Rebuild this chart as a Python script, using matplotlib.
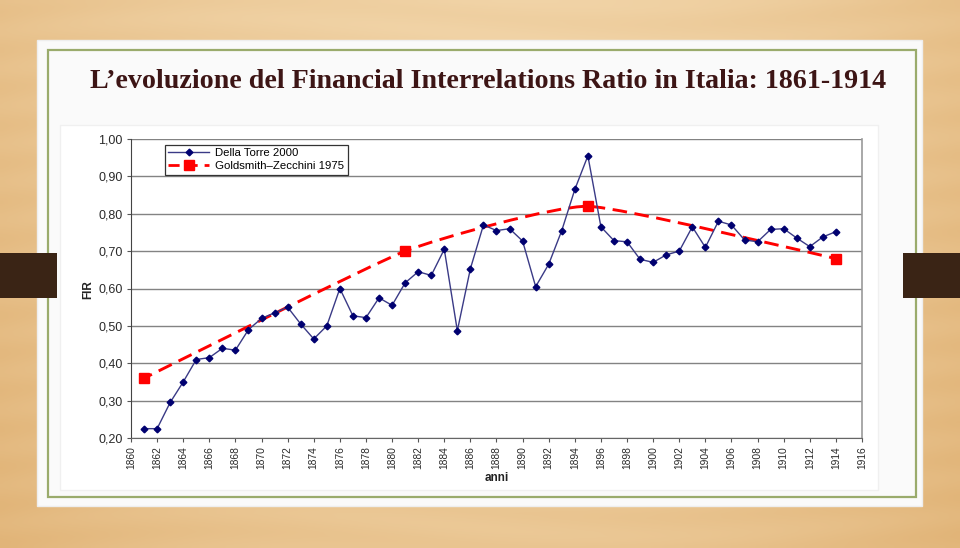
import numpy as np
import matplotlib
matplotlib.use("Agg")
import matplotlib.pyplot as plt
from matplotlib.path import Path
from matplotlib.patches import PathPatch, Rectangle
from matplotlib.lines import Line2D

# ---------------- data ----------------
years_dt = list(range(1861, 1915))
della_torre = [0.225, 0.225, 0.295, 0.350, 0.410, 0.415, 0.440, 0.435, 0.490, 0.520,
               0.535, 0.550, 0.505, 0.465, 0.500, 0.600, 0.527, 0.522, 0.575, 0.555,
               0.615, 0.645, 0.635, 0.705, 0.487, 0.653, 0.770, 0.755, 0.760, 0.727,
               0.605, 0.665, 0.755, 0.865, 0.955, 0.765, 0.728, 0.725, 0.678, 0.670,
               0.690, 0.700, 0.765, 0.710, 0.780, 0.770, 0.730, 0.725, 0.758, 0.760,
               0.735, 0.712, 0.738, 0.752]
years_gz = [1861, 1881, 1895, 1914]
goldsmith = [0.36, 0.70, 0.82, 0.68]
x_ticks = list(range(1860, 1917, 2))
y_ticks = [0.20, 0.30, 0.40, 0.50, 0.60, 0.70, 0.80, 0.90, 1.00]
title = "L\u2019evoluzione del Financial Interrelations Ratio in Italia: 1861-1914"
label_dt = "Della Torre 2000"
label_gz = "Goldsmith\u2013Zecchini 1975"

W, H = 960, 548
fig = plt.figure(figsize=(W / 100, H / 100), dpi=100)

def fr(x0, y0, x1, y1):
    """pixel box (top-left origin) -> figure fraction rect"""
    return [x0 / W, 1 - y1 / H, (x1 - x0) / W, (y1 - y0) / H]

# ---------------- wood background ----------------
bg = fig.add_axes([0, 0, 1, 1])
bg.set_axis_off()
yy, xx = np.mgrid[0:1:120j, 0:1:200j]
c_light = np.array([0.95, 0.84, 0.67])
c_dark = np.array([0.86, 0.66, 0.40])
edge = np.clip(np.abs(xx - 0.5) * 2, 0, 1) ** 2
stripes = 0.04 * np.sin(yy * 90 + np.sin(xx * 7) * 2)
t = np.clip(0.35 * edge + 0.25 * yy + stripes + 0.1, 0, 1)[..., None]
img = c_light * (1 - t) + c_dark * t
bg.imshow(img, extent=[0, W, H, 0], aspect="auto", interpolation="bilinear")
bg.set_xlim(0, W)
bg.set_ylim(H, 0)
# slide
bg.add_patch(Rectangle((37, 40), 885, 466, facecolor="#fafafa", edgecolor="#eeeeee", lw=1))
bg.add_patch(Rectangle((48, 50), 868, 447, facecolor="none", edgecolor="#9aab6c", lw=1.6))
# dark side tabs (on top of the slide edge)
bg.add_patch(Rectangle((0, 253), 57, 45, facecolor="#3a2415", edgecolor="none"))
bg.add_patch(Rectangle((903, 253), 57, 45, facecolor="#3a2415", edgecolor="none"))
# chart picture background
bg.add_patch(Rectangle((60, 125), 818, 365, facecolor="#ffffff", edgecolor="#f0f0f0", lw=1))

fig.text(488 / W, 1 - 81 / H, title, ha="center", va="center",
         family="Liberation Serif", weight="bold", fontsize=20.2, color="#3d1515")

# ---------------- chart ----------------
ax = fig.add_axes(fr(131, 139, 862, 438))
ax.set_xlim(1860, 1916)
ax.set_ylim(0.2, 1.0)
ax.set_facecolor("white")
for yv in y_ticks:
    ax.axhline(yv, color="#838383", lw=1.0, zorder=0)

# Goldsmith-Zecchini smoothed line (cardinal spline -> cubic Bezier)
P = np.column_stack([years_gz, goldsmith]).astype(float)
n = len(P)
k_in, k_end = 0.075, 0.06
verts = [tuple(P[0])]
codes = [Path.MOVETO]
for i in range(n - 1):
    if i > 0:
        c1 = P[i] + (P[i + 1] - P[i - 1]) * k_in
    else:
        c1 = P[i] + (P[i + 1] - P[i]) * k_end
    if i + 2 < n:
        c2 = P[i + 1] - (P[i + 2] - P[i]) * k_in
    else:
        c2 = P[i + 1] - (P[i + 1] - P[i]) * k_end
    verts += [tuple(c1), tuple(c2), tuple(P[i + 1])]
    codes += [Path.CURVE4] * 3
ax.add_patch(PathPatch(Path(verts, codes), fill=False, edgecolor="#ff0000",
                       lw=2.1, linestyle=(2, (5, 2.6)), zorder=2))
ax.plot(years_gz, goldsmith, linestyle="none", marker="s", markersize=6.5,
        color="#ff0000", zorder=3)

ax.plot(years_dt, della_torre, color="#3a3a86", lw=1.0, marker="D",
        markersize=3.4, markerfacecolor="#000070", markeredgecolor="#000070", zorder=4)

ax.set_xticks(x_ticks)
ax.set_xticklabels([str(v) for v in x_ticks], rotation=90, fontsize=7.4,
                   family="Liberation Sans", color="#2a2a2a")
ax.set_yticks(y_ticks)
ax.set_yticklabels([f"{v:.2f}".replace(".", ",") for v in y_ticks], fontsize=9,
                   family="Liberation Sans", color="#2a2a2a")
ax.tick_params(axis="both", direction="out", length=3, width=0.8, color="#555555", pad=3)
ax.spines["top"].set_visible(False)
ax.spines["left"].set_color("#444444")
ax.spines["bottom"].set_color("#666666")
ax.spines["right"].set_color("#999999")
ax.spines["right"].set_linewidth(1.2)

fig.text(88 / W, 1 - 290 / H, "FIR", rotation=90, ha="center", va="center",
         family="Liberation Sans", weight="bold", fontsize=8.5, color="#222222")
fig.text(497 / W, 1 - 478 / H, "anni", ha="center", va="center",
         family="Liberation Sans", weight="bold", fontsize=8.5, color="#222222")

h1 = Line2D([], [], color="#3a3a86", lw=1.0, marker="D", markersize=3.4,
            markerfacecolor="#000070", markeredgecolor="#000070")
h2 = Line2D([], [], color="#ff0000", lw=2.0, linestyle=(0, (4, 2.5)), marker="s",
            markersize=6.5)
leg = fig.legend([h1, h2], [label_dt, label_gz], loc="upper left",
                 bbox_to_anchor=(165 / W, 1 - 145 / H), fancybox=False, framealpha=1,
                 edgecolor="#333333", prop={"family": "Liberation Sans", "size": 8.2},
                 handlelength=3.6, borderpad=0.3, labelspacing=0.25, handletextpad=0.5,
                 borderaxespad=0)
leg.get_frame().set_linewidth(0.9)

fig.savefig("out.png", dpi=100)
